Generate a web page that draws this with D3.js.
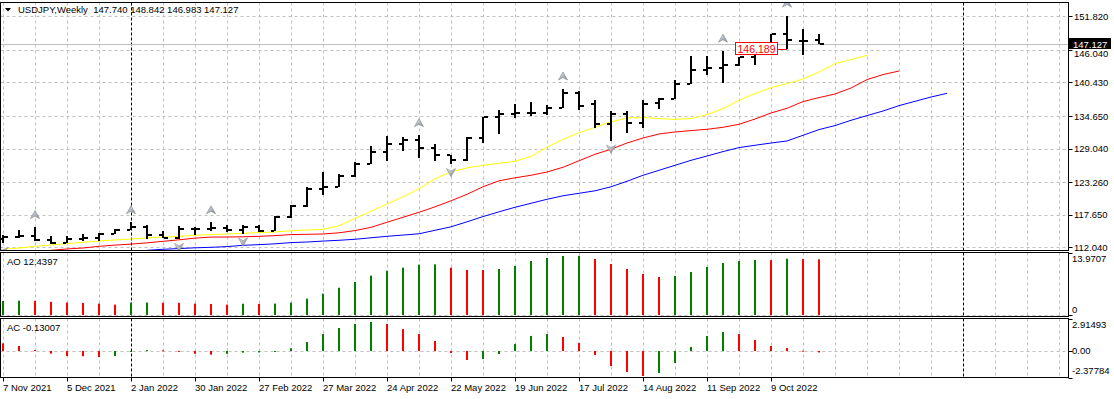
<!DOCTYPE html>
<html><head><meta charset="utf-8">
<script src="https://cdn.jsdelivr.net/npm/d3@7"></script>
<style>body{margin:0;background:#fff}svg{display:block}text{font-family:"Liberation Sans",Arial,sans-serif;font-size:9.5px}</style>
</head><body><svg id="c" width="1114" height="399"></svg>
<script>
// ---------- data ----------
const symbolTitle = "USDJPY,Weekly";
const opens  = [113.43,113.87,114.00,113.35,112.85,113.45,113.60,114.40,115.10,115.55,114.20,113.70,115.25,115.20,115.40,115.00,115.55,114.80,117.30,119.15,122.10,122.50,124.35,126.40,128.50,129.85,130.55,129.20,127.85,127.10,130.85,134.40,135.00,135.20,135.20,136.10,138.55,136.80,133.30,135.00,133.45,136.90,137.60,140.20,142.60,142.90,143.35,144.75,145.30,148.70,147.65,147.740];
const highs  = [114.15,114.97,115.52,113.95,113.95,114.25,114.50,115.20,116.35,115.95,114.85,115.70,115.60,116.35,115.90,115.80,115.80,117.35,119.40,122.45,125.09,124.60,126.68,129.40,131.25,131.05,131.35,129.75,128.00,131.00,134.55,135.60,136.70,137.00,136.60,139.38,138.88,137.45,135.58,135.58,137.40,137.70,140.80,144.99,144.95,145.90,144.80,145.45,148.85,151.94,149.70,148.842];
const lows   = [112.73,113.58,113.05,112.53,112.85,113.15,113.15,114.25,115.00,113.47,113.60,113.47,114.15,114.90,114.75,114.40,114.65,114.80,117.00,119.00,121.00,122.40,124.10,126.30,126.95,128.60,127.50,126.95,126.36,126.90,130.00,131.50,134.30,134.70,134.80,135.98,135.60,132.50,130.40,131.73,132.56,135.80,137.50,140.10,141.65,140.35,143.30,143.50,145.30,146.23,145.10,146.983];
const closes = [113.87,114.00,113.38,112.80,113.40,113.70,114.40,115.08,115.55,114.20,113.70,115.25,115.20,115.40,115.00,115.55,114.80,117.30,119.15,122.05,122.50,124.35,126.40,128.50,129.85,130.55,129.20,127.85,127.10,130.85,134.40,135.00,135.20,135.20,136.10,138.55,136.30,133.30,135.00,133.45,136.80,137.60,140.20,142.60,142.90,143.35,144.75,145.30,148.70,147.75,147.50,147.127];

// Alligator lines (price values read at each bar slot; start index given)
const lipsStart = 0;   // yellow
const lipsValues = [111.70,111.92,112.21,112.44,112.68,112.90,113.12,113.30,113.47,113.64,113.81,113.93,114.11,114.23,114.33,114.45,114.57,114.67,114.88,115.02,115.14,115.74,117.03,118.24,119.50,120.74,122.11,123.84,125.01,125.73,126.16,126.51,126.85,127.71,129.26,130.64,131.76,132.71,133.65,134.31,134.38,134.20,134.08,134.20,134.89,135.93,137.35,138.51,139.54,140.23,141.02,142.23,143.67,144.36,145.10];
const teethStart = 3;  // red
const teethValues = [111.52,111.75,111.92,112.21,112.42,112.59,112.81,113.07,113.33,113.62,113.80,113.81,113.85,113.93,114.05,114.23,114.28,114.33,114.54,114.92,115.48,116.35,117.21,118.07,119.01,120.05,121.17,122.46,123.49,124.01,124.44,125.01,125.82,126.94,128.06,128.92,130.00,130.86,131.55,131.90,132.14,132.36,132.71,133.22,134.13,135.17,135.98,137.13,137.82,138.44,139.47,140.92,141.78,142.40];
const jawStart = 9;    // blue
const jawValues = [111.52,111.70,111.82,111.95,112.04,112.16,112.38,112.50,112.64,112.85,112.95,113.11,113.25,113.42,113.68,113.93,114.15,114.37,114.97,115.57,116.43,117.33,118.15,118.93,119.62,120.31,120.91,121.34,121.77,122.46,123.41,124.44,125.30,126.16,127.02,127.76,128.52,129.21,129.61,130.00,130.35,131.33,132.31,133.00,133.91,134.72,135.51,136.44,137.18,137.92,138.56];

const fractalUp = [2,8,13,26,35,45,49];
const fractalDown = [0,11,15,28,38];

const aoPrev = 3.05;
const aoValues = [3.13,3.20,3.16,2.95,2.78,2.70,2.55,2.32,2.76,2.79,2.75,2.72,2.55,2.47,2.32,2.52,2.50,2.55,2.76,3.65,4.77,6.10,7.38,8.80,9.90,10.58,11.25,11.32,10.58,10.07,10.05,10.29,10.96,12.08,12.75,13.20,13.22,12.53,11.41,10.29,9.17,8.50,8.72,9.62,10.74,11.63,12.08,12.30,12.25,12.58,12.50,12.4397];
const acPrev = 0.95;
const acValues = [0.69,0.45,0.09,-0.24,-0.45,-0.47,-0.54,-0.45,-0.05,0.08,0.06,0.01,-0.25,-0.33,-0.25,-0.15,-0.13,-0.05,0.24,0.80,1.52,2.06,2.42,2.60,2.42,1.97,1.52,0.90,-0.18,-0.81,-0.72,-0.27,0.63,1.35,1.52,1.26,0.72,-0.36,-1.35,-1.88,-2.24,-1.97,-1.08,0.36,1.35,1.70,1.52,0.99,0.45,0.27,0.03,-0.13007];

const priceTicks = [151.820,146.040,140.430,134.650,129.040,123.260,117.650,112.040];
const aoTicks = [13.9707, 0];
const aoTickLabels = ["13.9707","0"];
const acTicks = [2.91493, 0, -2.37784];
const acTickLabels = ["2.91493","0.00","-2.37784"];
const dateLabels = ["7 Nov 2021","5 Dec 2021","2 Jan 2022","30 Jan 2022","27 Feb 2022","27 Mar 2022","24 Apr 2022","22 May 2022","19 Jun 2022","17 Jul 2022","14 Aug 2022","11 Sep 2022","9 Oct 2022"];
const dateLabelStep = 4;   // bars between date labels
const gridStep = 2;        // bars between vertical grid lines
const gridCount = 34;
const separatorIdx = [8, 60];
const priceLabelValue = 146.189, priceLabelText = "146,189", priceLabelBar = 49;

// ---------- layout ----------
const svg = d3.select("#c");
const W = 1114;
const P = {left:0.5, right:1068.5, mainTop:2.5, mainBot:250.5, aoTop:252.5, aoBot:316.5, acTop:318.5, acBot:377.5};
const x = d3.scaleLinear().domain([0, 51]).range([3, 819]);
const y = d3.scaleLinear().domain([112.04, 151.82]).range([247.3, 16.3]);
const yAO = d3.scaleLinear().domain([0, 13.9707]).range([315, 252.5]);
const yAC = d3.scaleLinear().domain([-2.37784, 2.91493]).range([377.5, 318.5]);
const px = v => Math.round(v) + 0.5;

svg.append("rect").attr("width", W).attr("height", 399).attr("fill", "#fff");

const defs = svg.append("defs");
defs.append("clipPath").attr("id","clipMain").append("rect")
  .attr("x",P.left).attr("y",P.mainTop).attr("width",P.right-P.left).attr("height",P.mainBot-P.mainTop);
const gu = defs.append("linearGradient").attr("id","fg").attr("x1",0).attr("y1",0).attr("x2",1).attr("y2",1);
gu.append("stop").attr("offset","0").attr("stop-color","#f0f2f6");
gu.append("stop").attr("offset","1").attr("stop-color","#7a7f88");

const panels = [[P.mainTop,P.mainBot],[P.aoTop,P.aoBot],[P.acTop,P.acBot]];
const gridIdx = d3.range(gridCount).map(k => k*gridStep);

// vertical grid
panels.forEach(([t,b]) => {
  svg.append("g").selectAll("line").data(gridIdx.filter(i => !separatorIdx.includes(i))).join("line")
    .attr("x1", i => px(x(i))).attr("x2", i => px(x(i))).attr("y1", t).attr("y2", b)
    .attr("stroke", "#c0c0c0").attr("stroke-dasharray", "3,3");
  svg.append("g").selectAll("line").data(separatorIdx).join("line")
    .attr("x1", i => px(x(i))).attr("x2", i => px(x(i))).attr("y1", t).attr("y2", b)
    .attr("stroke", "#000").attr("stroke-dasharray", "3,2");
});
// horizontal grid
svg.append("g").selectAll("line").data(priceTicks).join("line")
  .attr("x1", P.left).attr("x2", P.right).attr("y1", d => px(y(d))).attr("y2", d => px(y(d)))
  .attr("stroke", "#c0c0c0").attr("stroke-dasharray", "3,3");
svg.append("line").attr("x1",P.left).attr("x2",P.right).attr("y1",px(yAO(0))).attr("y2",px(yAO(0)))
  .attr("stroke","#c0c0c0").attr("stroke-dasharray","3,3");
svg.append("line").attr("x1",P.left).attr("x2",P.right).attr("y1",px(yAC(0))).attr("y2",px(yAC(0)))
  .attr("stroke","#c0c0c0").attr("stroke-dasharray","3,3");

// bid line
const last = closes.length - 1;
svg.append("line").attr("x1",P.left).attr("x2",P.right).attr("y1",px(y(closes[last]))).attr("y2",px(y(closes[last])))
  .attr("stroke","#c0c0c0");

const gm = svg.append("g").attr("clip-path","url(#clipMain)");
// alligator
function drawLine(vals, start, color){
  const line = d3.line().x((d,k) => x(start+k)).y(d => y(d));
  gm.append("path").attr("d", line(vals)).attr("fill","none").attr("stroke",color).attr("stroke-width",1);
}
drawLine(jawValues, jawStart, "#0000ff");
drawLine(teethValues, teethStart, "#ff0000");
drawLine(lipsValues, lipsStart, "#ffff00");

// OHLC bars
const idx = d3.range(closes.length);
const bars = gm.append("g").attr("fill","#000");
bars.selectAll(".v").data(idx).join("rect")
  .attr("x", i => Math.round(x(i))-1).attr("width", 2)
  .attr("y", i => Math.round(y(highs[i]))).attr("height", i => Math.max(2, Math.round(y(lows[i]))-Math.round(y(highs[i]))));
bars.selectAll(".o").data(idx).join("rect")
  .attr("x", i => Math.round(x(i))-4).attr("width", 3)
  .attr("y", i => Math.round(y(opens[i]))-1).attr("height", 2);
bars.selectAll(".c").data(idx).join("rect")
  .attr("x", i => Math.round(x(i))+1).attr("width", 4)
  .attr("y", i => Math.round(y(closes[i]))-1).attr("height", 2);

// fractals
const upPath = "M0,-4.5 L4.5,3.5 L0,1 L-4.5,3.5 Z";
const dnPath = "M0,4.5 L4.5,-3.5 L0,-1 L-4.5,-3.5 Z";
gm.append("g").selectAll("path").data(fractalUp).join("path")
  .attr("d", upPath).attr("transform", i => `translate(${x(i)},${y(highs[i])-12})`)
  .attr("fill","url(#fg)").attr("stroke","#8a909a").attr("stroke-width",0.7);
gm.append("g").selectAll("path").data(fractalDown).join("path")
  .attr("d", dnPath).attr("transform", i => `translate(${x(i)},${y(lows[i])+8})`)
  .attr("fill","url(#fg)").attr("stroke","#8a909a").attr("stroke-width",0.7);

// price label object
const ply = y(priceLabelValue);
svg.append("line").attr("x1", 777).attr("x2", x(priceLabelBar)).attr("y1", px(ply)).attr("y2", px(ply)).attr("stroke","#ff0000");
svg.append("rect").attr("x", 735.5).attr("y", Math.round(ply)-6.5).attr("width", 42).attr("height", 12)
  .attr("fill","#fff").attr("stroke","#ff0000");
svg.append("text").attr("x", 756.5).attr("y", Math.round(ply)+4).attr("text-anchor","middle")
  .attr("fill","#ff0000").style("font-size","10.5px").text(priceLabelText);

// AO histogram
svg.append("g").selectAll("rect").data(idx).join("rect")
  .attr("x", i => Math.round(x(i))-1).attr("width", 2)
  .attr("y", i => yAO(aoValues[i])).attr("height", i => yAO(0)-yAO(aoValues[i]))
  .attr("fill", i => aoValues[i] > (i ? aoValues[i-1] : aoPrev) ? "#008000" : "#ff0000");
// AC histogram
svg.append("g").selectAll("rect").data(idx).join("rect")
  .attr("x", i => Math.round(x(i))-1).attr("width", 2)
  .attr("y", i => Math.min(yAC(acValues[i]), yAC(0))).attr("height", i => Math.max(1, Math.abs(yAC(acValues[i])-yAC(0))))
  .attr("fill", i => acValues[i] > (i ? acValues[i-1] : acPrev) ? "#008000" : "#ff0000");

// panel borders
panels.forEach(([t,b]) => {
  svg.append("rect").attr("x",P.left).attr("y",t).attr("width",P.right-P.left).attr("height",b-t)
    .attr("fill","none").attr("stroke","#000");
});

// right axis: main
const curY = Math.round(y(closes[last]));
const ra = svg.append("g");
ra.selectAll("line").data(priceTicks).join("line")
  .attr("x1",P.right).attr("x2",P.right+4).attr("y1",d=>px(y(d))).attr("y2",d=>px(y(d))).attr("stroke","#000");
ra.selectAll("text").data(priceTicks).join("text")
  .attr("x",1074).attr("y",d => { const ty = y(d)+3.5; return (ty-7 < curY+5 && ty > curY-6) ? curY+13 : ty; })
  .attr("fill","#000").text(d=>d3.format(".3f")(d));
// current price box
svg.append("rect").attr("x",1069).attr("y",curY-6).attr("width",42).attr("height",11).attr("fill","#000");
svg.append("text").attr("x",1073).attr("y",curY+3.5).attr("fill","#fff").text(d3.format(".3f")(closes[last]));

// AO axis
const aoLabelY = [262, 313];
svg.append("g").selectAll("text").data(aoTicks).join("text")
  .attr("x",1072).attr("y",(d,k)=>aoLabelY[k]).attr("fill","#000").text((d,k)=>aoTickLabels[k]);
svg.append("g").selectAll("line").data(aoTicks).join("line")
  .attr("x1",P.right).attr("x2",P.right+4).attr("y1",d=>px(yAO(d))).attr("y2",d=>px(yAO(d))).attr("stroke","#000");
// AC axis
svg.append("g").selectAll("text").data(acTicks).join("text")
  .attr("x",1072).attr("y",d=>yAC(d)+ (d>2?9:(d<-2?-4:3.5))).attr("fill","#000").text((d,k)=>acTickLabels[k]);
svg.append("g").selectAll("line").data(acTicks).join("line")
  .attr("x1",P.right).attr("x2",P.right+4).attr("y1",d=>px(yAC(d))).attr("y2",d=>px(yAC(d))).attr("stroke","#000");

// bottom date axis
const dg = svg.append("g");
dg.selectAll("line").data(dateLabels).join("line")
  .attr("x1",(d,k)=>px(x(k*dateLabelStep))).attr("x2",(d,k)=>px(x(k*dateLabelStep)))
  .attr("y1",P.acBot).attr("y2",P.acBot+4).attr("stroke","#000");
dg.selectAll("text").data(dateLabels).join("text")
  .attr("x",(d,k)=>x(k*dateLabelStep)).attr("y",391).attr("fill","#000").text(d=>d);

// header
svg.append("path").attr("d","M5,8 L11,8 L8,11.5 Z").attr("fill","#000");
const f3 = d3.format(".3f");
svg.append("text").attr("x",18).attr("y",13).attr("fill","#000").attr("xml:space","preserve")
  .text(`${symbolTitle}  ${f3(opens[last])} ${f3(highs[last])} ${f3(lows[last])} ${f3(closes[last])}`);
svg.append("text").attr("x",7).attr("y",265).attr("fill","#000").text(`AO ${aoValues[last]}`);
svg.append("text").attr("x",7).attr("y",331).attr("fill","#000").text(`AC ${acValues[last]}`);
</script></body></html>
